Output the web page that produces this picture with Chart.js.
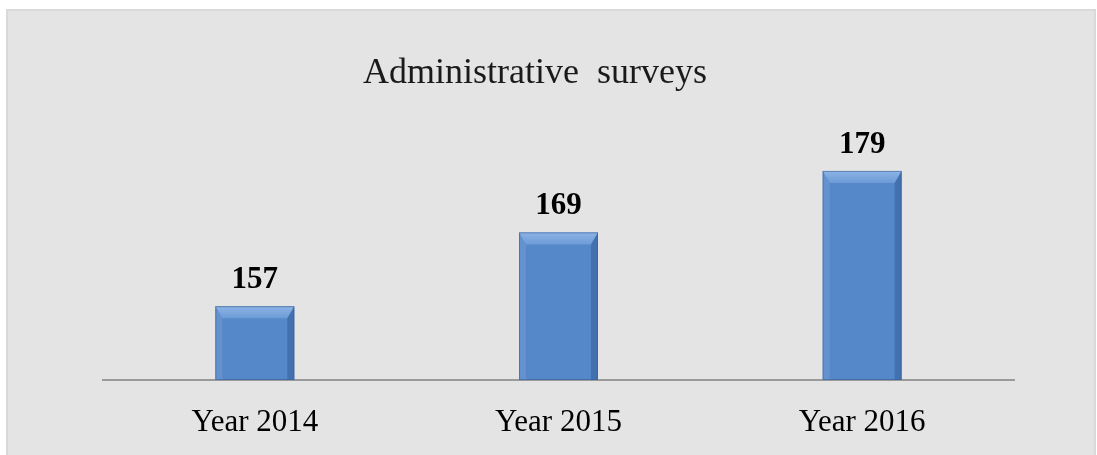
<!DOCTYPE html>
<html>
<head>
<meta charset="utf-8">
<script src="https://cdn.jsdelivr.net/npm/chart.js@4.4.1/dist/chart.umd.min.js"></script>
<style>
  html, body { margin: 0; padding: 0; background: #ffffff; width: 1097px; height: 455px; overflow: hidden; }
  #frame { position: absolute; left: 6px; top: 9px; width: 1086px; height: 460px; background: #e4e4e4; border: 2px solid #d9d9d9; border-bottom: none; }
  #wrap { position: absolute; left: 0; top: 0; width: 1097px; height: 455px; }
</style>
</head>
<body>
<div id="frame"></div>
<div id="wrap"><canvas id="c" width="1097" height="455"></canvas></div>
<script>
const chartTitle = "Administrative  surveys";
const categories = ["Year 2014", "Year 2015", "Year 2016"];
const surveyCounts = [157, 169, 179];
const axisMin = 145;
const axisMax = 185;

const titlePlugin = {
  id: 'customTitle',
  afterDraw(chart) {
    const ctx = chart.ctx;
    ctx.save();
    ctx.font = '36px "Liberation Serif", "Times New Roman", serif';
    ctx.fillStyle = '#1a1a1a';
    ctx.textAlign = 'center';
    ctx.textBaseline = 'alphabetic';
    ctx.fillText(chartTitle, 535, 83);
    ctx.restore();
  }
};

const bevelPlugin = {
  id: 'bevel',
  afterDatasetsDraw(chart) {
    const ctx = chart.ctx;
    const meta = chart.getDatasetMeta(0);
    const bottom = chart.chartArea.bottom;
    meta.data.forEach((bar, i) => {
      const w = bar.width;
      const l = bar.x - w / 2, r = bar.x + w / 2, t = bar.y, b = Math.min(bar.base, bottom);
      if (![l, r, t, b].every(Number.isFinite)) return;
      const s = 7, tb = 12;
      ctx.save();
      // top bevel
      const g = ctx.createLinearGradient(0, t, 0, t + tb);
      g.addColorStop(0, '#8db4e6');
      g.addColorStop(1, '#6d9bd6');
      ctx.beginPath();
      ctx.moveTo(l, t); ctx.lineTo(r, t); ctx.lineTo(r - s, t + tb); ctx.lineTo(l + s, t + tb); ctx.closePath();
      ctx.fillStyle = g; ctx.fill();
      // left side
      ctx.beginPath();
      ctx.moveTo(l, t); ctx.lineTo(l + s, t + tb); ctx.lineTo(l + s, b); ctx.lineTo(l, b); ctx.closePath();
      ctx.fillStyle = 'rgba(120,160,215,0.45)'; ctx.fill();
      // right side
      ctx.beginPath();
      ctx.moveTo(r, t); ctx.lineTo(r - s, t + tb); ctx.lineTo(r - s, b); ctx.lineTo(r, b); ctx.closePath();
      ctx.fillStyle = 'rgba(40,80,140,0.4)'; ctx.fill();
      // outline
      ctx.strokeStyle = 'rgba(60,95,150,0.6)';
      ctx.lineWidth = 1;
      ctx.strokeRect(l + 0.5, t + 0.5, w - 1, b - t - 1);
      // value label
      ctx.font = 'bold 31px "Liberation Serif", "Times New Roman", serif';
      ctx.fillStyle = '#000000';
      ctx.textAlign = 'center';
      ctx.textBaseline = 'alphabetic';
      ctx.fillText(String(surveyCounts[i]), bar.x, t - 18);
      ctx.restore();
    });
  }
};

new Chart(document.getElementById('c'), {
  type: 'bar',
  data: {
    labels: categories,
    datasets: [{
      data: surveyCounts,
      backgroundColor: '#5588c8',
      borderWidth: 0,
      barPercentage: 0.26,
      categoryPercentage: 1.0
    }]
  },
  options: {
    responsive: false,
    animation: false,
    layout: { padding: { left: 103, right: 83, top: 134, bottom: 0 } },
    plugins: { legend: { display: false }, title: { display: false }, tooltip: { enabled: false } },
    scales: {
      x: {
        grid: { display: false, drawTicks: false },
        border: { display: true, color: '#9a9a9a', width: 2 },
        ticks: { color: '#000000', padding: 24, font: { family: '"Liberation Serif", "Times New Roman", serif', size: 31 } },
        afterFit(scale) { scale.height = 75; }
      },
      y: {
        display: false,
        min: axisMin,
        max: axisMax
      }
    }
  },
  plugins: [bevelPlugin, titlePlugin]
});
</script>
</body>
</html>
